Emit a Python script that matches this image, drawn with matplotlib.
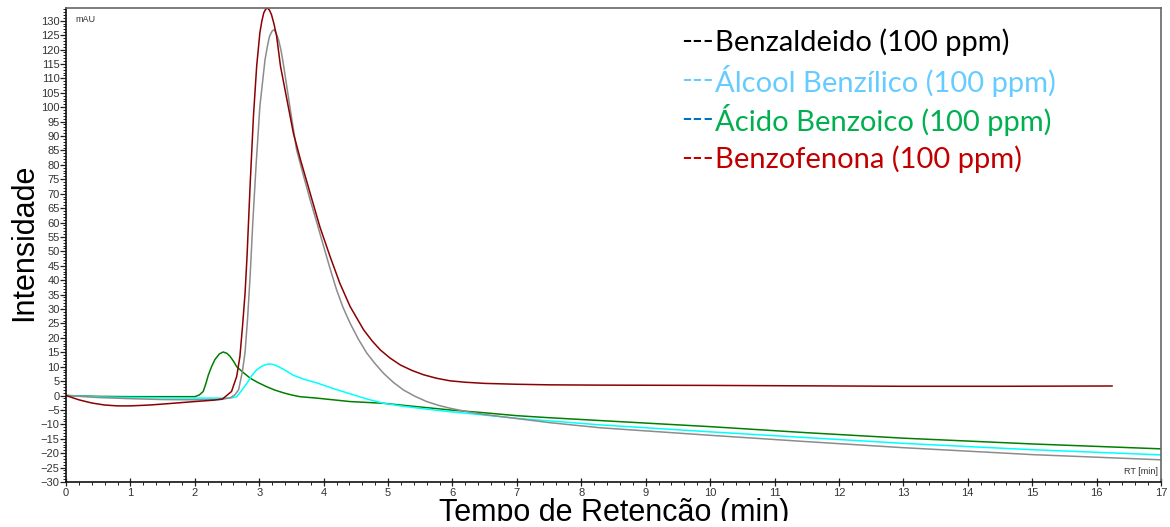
import matplotlib
matplotlib.use('Agg')
import matplotlib.pyplot as plt
from matplotlib.ticker import MultipleLocator
from matplotlib.transforms import Bbox, TransformedBbox

t_benzofenona = [0.0, 0.2, 0.4, 0.6, 0.8, 1.0, 1.3, 1.6, 2.0, 2.3, 2.43, 2.49, 2.57, 2.65,
                 2.70, 2.74, 2.78, 2.81, 2.86, 2.91, 2.96, 3.01, 3.04, 3.07, 3.10, 3.13,
                 3.16, 3.19, 3.23, 3.27, 3.33, 3.43, 3.53, 3.64, 3.79, 3.94, 4.10, 4.25,
                 4.41, 4.62, 4.75, 4.88, 5.03, 5.19, 5.37, 5.55, 5.75, 5.96, 6.2, 6.5, 7.0,
                 7.5, 8.3, 10.0, 12.0, 13.0, 14.5, 16.24]
i_benzofenona = [0.0, -1.5, -2.6, -3.3, -3.6, -3.6, -3.3, -2.8, -2.1, -1.6, -1.2, -0.1, 1.4,
                 6.6, 13.5, 23.9, 35.5, 48.0, 73.7, 96.8, 114.2, 125.8, 129.8, 132.7, 134.0,
                 134.4, 133.6, 132.1, 128.8, 124.6, 114.2, 102.6, 91.0, 81.8, 70.2, 58.6,
                 48.2, 39.0, 30.9, 22.8, 19.0, 15.8, 13.0, 10.6, 8.7, 7.2, 6.0, 5.1, 4.6,
                 4.2, 3.9, 3.7, 3.6, 3.5, 3.3, 3.2, 3.2, 3.3]

t_benzaldeido = [0.0, 0.5, 1.0, 1.5, 2.0, 2.4, 2.55, 2.62, 2.68, 2.74, 2.78, 2.82, 2.86,
                 2.90, 2.95, 3.01, 3.09, 3.13, 3.16, 3.20, 3.23, 3.26, 3.30, 3.34, 3.38,
                 3.48, 3.58, 3.69, 3.79, 3.90, 4.00, 4.10, 4.20, 4.30, 4.41, 4.54, 4.67,
                 4.80, 4.93, 5.08, 5.24, 5.42, 5.60, 5.78, 5.96, 6.2, 6.5, 7.0, 7.5, 8.3,
                 10.0, 11.5, 13.0, 15.0, 17.0]
i_benzaldeido = [0.0, -0.7, -1.1, -1.4, -1.5, -1.4, -0.8, 0.2, 2.0, 8.5, 15.0, 27.0, 42.0,
                 60.0, 79.5, 100.3, 116.5, 121.5, 124.6, 126.4, 126.9, 125.8, 123.4, 119.5,
                 114.2, 99.5, 85.2, 76.0, 67.9, 59.5, 51.7, 44.0, 36.7, 30.6, 25.1, 19.5,
                 14.7, 11.0, 7.7, 4.6, 1.9, -0.3, -2.1, -3.4, -4.4, -5.5, -6.6, -8.0, -9.4,
                 -11.2, -13.8, -16.0, -18.1, -20.5, -22.3]

t_alcool = [0.0, 0.5, 1.0, 1.5, 2.0, 2.49, 2.58, 2.65, 2.73, 2.81, 2.88, 2.96, 3.03, 3.09,
            3.14, 3.19, 3.24, 3.30, 3.40, 3.53, 3.70, 3.89, 4.15, 4.41, 4.67, 4.93, 5.19,
            5.55, 5.96, 6.5, 7.0, 7.5, 8.3, 10.0, 11.5, 13.0, 15.0, 17.0]
i_alcool = [0.0, -0.5, -0.7, -0.8, -0.9, -0.9, -0.8, -0.4, 1.8, 4.3, 6.8, 8.9, 10.0, 10.6,
            10.9, 10.9, 10.6, 10.0, 8.8, 7.0, 5.6, 4.4, 2.4, 0.6, -1.2, -2.7, -3.6, -4.6,
            -5.6, -6.8, -7.9, -8.8, -10.2, -12.6, -14.6, -16.6, -18.8, -20.6]

t_acido = [0.0, 0.5, 1.0, 1.5, 2.0, 2.07, 2.13, 2.17, 2.21, 2.26, 2.31, 2.38, 2.44, 2.50,
           2.55, 2.60, 2.65, 2.75, 2.86, 2.98, 3.11, 3.24, 3.38, 3.50, 3.63, 3.89, 4.15,
           4.41, 4.67, 4.93, 5.19, 5.55, 5.96, 6.5, 7.0, 7.5, 8.3, 10.0, 11.5, 13.0, 15.0,
           17.0]
i_acido = [0.0, -0.3, -0.4, -0.4, -0.4, 0.2, 1.4, 4.0, 7.1, 10.0, 12.4, 14.4, 15.1, 14.6,
           13.5, 11.9, 10.0, 8.0, 6.0, 4.5, 3.1, 1.9, 0.9, 0.2, -0.4, -0.9, -1.5, -2.1,
           -2.4, -2.7, -3.3, -4.1, -5.0, -6.0, -7.0, -7.7, -8.7, -10.8, -12.9, -14.8,
           -16.8, -18.5]

legenda = ['Benzaldeido (100 ppm)', 'Álcool Benzílico (100 ppm)',
           'Ácido Benzoico (100 ppm)', 'Benzofenona (100 ppm)']
cor_tracos = ['#000000', '#66CCFF', '#0070C0', '#C00000']
cor_texto = ['#000000', '#66CCFF', '#00B050', '#C00000']

W, H = 1170, 527
fig = plt.figure(figsize=(W / 100, H / 100), dpi=100)
ax = fig.add_axes([66 / W, 1 - 482 / H, (1161 - 66) / W, (482 - 8) / H])

ax.plot(t_acido, i_acido, color='#008000', lw=1.1)
ax.plot(t_alcool, i_alcool, color='#00FFFF', lw=1.1)
ax.plot(t_benzaldeido, i_benzaldeido, color='#8C8C8C', lw=1.1)
ax.plot(t_benzofenona, i_benzofenona, color='#8B0000', lw=1.1)

ax.set_xlim(0, 17)
ax.set_ylim(-30, 134.4)
ax.xaxis.set_major_locator(MultipleLocator(1))
ax.xaxis.set_minor_locator(MultipleLocator(0.2))
ax.yaxis.set_minor_locator(MultipleLocator(1))
ax.set_yticks(range(-30, 131, 5))
ax.tick_params(axis='both', which='major', labelsize=8, labelcolor='#333333',
               color='#222222', width=0.9)
ax.tick_params(axis='both', which='minor', color='#222222', width=0.7)
ax.tick_params(axis='x', which='major', direction='inout', length=6, pad=1)
ax.tick_params(axis='x', which='minor', direction='out', length=2.5)
ax.tick_params(axis='y', which='major', direction='out', length=4, pad=0.5)
ax.tick_params(axis='y', which='minor', direction='out', length=2.5)
for lado in ['left', 'bottom']:
    ax.spines[lado].set_color('#111111')
    ax.spines[lado].set_linewidth(1.2)
for lado in ['top', 'right']:
    ax.spines[lado].set_color('#666666')
    ax.spines[lado].set_linewidth(1.2)
for lbl in ax.get_xticklabels() + ax.get_yticklabels():
    lbl.set_fontfamily('Liberation Sans')

ax.text(0.0085, 0.985, 'mAU', transform=ax.transAxes, fontsize=6.5, color='#333333',
        family='Liberation Sans', va='top', ha='left')
ax.text(0.9975, 0.012, 'RT [min]', transform=ax.transAxes, fontsize=6.5, color='#333333',
        family='Liberation Sans', va='bottom', ha='right')

fig.text(24 / W, 1 - 242 / H, 'Intensidade', rotation=90, fontsize=22,
         family='Liberation Sans', ha='center', va='center')
xlab = fig.text(614 / W, 1 - 520.5 / H, 'Tempo de Retenção (min)', fontsize=22,
                family='Liberation Sans', ha='center', va='baseline')
# o rótulo do eixo x fica cortado na margem de baixo
xlab.set_clip_box(TransformedBbox(Bbox([[0, 6.5 / H], [1, 1]]), fig.transFigure))
xlab.set_clip_on(True)

# legenda escrita à mão: traços numa cor e nome noutra
for k in range(len(legenda)):
    y = 1 - (42 + 39 * k) / H
    fig.text(714 / W, y, '---', color=cor_tracos[k], fontsize=21, family='Lato',
             ha='right', va='center')
    fig.text(715 / W, y, legenda[k], color=cor_texto[k], fontsize=21, family='Lato',
             ha='left', va='center')

fig.savefig('out.png', dpi=100)
